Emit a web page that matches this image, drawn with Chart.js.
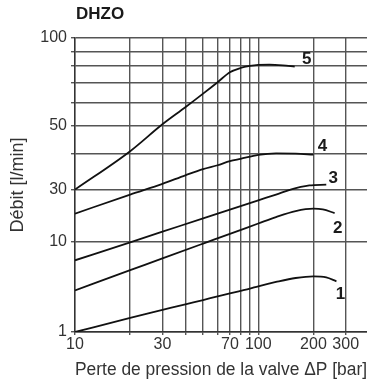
<!DOCTYPE html>
<html>
<head>
<meta charset="utf-8">
<script src="https://cdn.jsdelivr.net/npm/chart.js@4.4.1/dist/chart.umd.min.js"></script>
<style>
  html, body { margin: 0; padding: 0; background: #fff; }
</style>
</head>
<body>
<canvas id="flowChart" width="367" height="385"></canvas>
<script>
// Pressure drop (bar) and flow (l/min), one pair of arrays per curve
const pressure1 = [10, 20, 30, 40, 50, 60, 70, 80, 90, 100, 125, 160, 200, 235, 267];
const flow1 = [1.0, 1.43, 1.75, 2.02, 2.25, 2.47, 2.66, 2.84, 3.01, 3.19, 3.56, 3.94, 4.11, 4.0, 3.62];

const pressure2 = [10, 20, 30, 50, 70, 100, 125, 160, 200, 225, 261];
const flow2 = [2.88, 4.8, 6.48, 9.43, 11.7, 14.6, 16.75, 19.0, 20.0, 19.7, 18.2];

const pressure3 = [10, 20, 30, 50, 70, 100, 125, 150, 190, 235];
const flow3 = [6.17, 9.75, 12.26, 16.3, 19.6, 23.9, 27.0, 30.0, 31.0, 31.2];

const pressure4 = [10, 20, 30, 40, 50, 60, 70, 80, 100, 125, 160, 200];
const flow4 = [18.0, 27.0, 31.4, 33.6, 35.3, 36.4, 37.6, 38.3, 39.5, 40.0, 39.9, 39.6];

const pressure5 = [10, 20, 30, 40, 50, 60, 70, 80, 90, 100, 115, 136, 158];
const flow5 = [30, 40.7, 50.4, 57.7, 64.3, 70.4, 76.2, 78.8, 80.1, 80.8, 81.0, 80.5, 79.6];

const curveNames = ['1', '2', '3', '4', '5'];

// Axis ticks
const xGrid = [10, 20, 30, 40, 50, 60, 70, 80, 90, 100, 200, 300];
const xLabels = [10, 30, 70, 100, 200, 300];
const yGrid = [1, 10, 30, 40, 50, 60, 70, 80, 90, 100];
const yLabels = [1, 10, 30, 50, 100];

// The flow axis is logarithmic, but every band has its own stretch
const yBreaks = [1, 10, 30, 100];
const yBandHeights = [90.7, 51.7, 151.6];

// where the curve numbers sit, relative to the last point of each curve
const labelOffsets = [[4, 13], [3, 15], [7, -6], [9, -8], [12, -7]];

const font = '"Liberation Sans", Arial, Helvetica, sans-serif';

class BandLogScale extends Chart.Scale {
    static id = 'bandlog';
    static defaults = {};

    determineDataLimits() {
        this.min = this.options.min;
        this.max = this.options.max;
    }

    buildTicks() {
        return yGrid.map(v => ({ value: v }));
    }

    toDecimal(v) {
        const total = yBandHeights.reduce((a, b) => a + b, 0);
        let acc = 0;
        for (let i = 0; i < yBandHeights.length; i++) {
            const lo = yBreaks[i], hi = yBreaks[i + 1];
            if (v <= hi || i === yBandHeights.length - 1) {
                const f = (Math.log10(v) - Math.log10(lo)) / (Math.log10(hi) - Math.log10(lo));
                return (acc + f * yBandHeights[i]) / total;
            }
            acc += yBandHeights[i];
        }
    }

    fromDecimal(d) {
        const total = yBandHeights.reduce((a, b) => a + b, 0);
        let pos = d * total;
        for (let i = 0; i < yBandHeights.length; i++) {
            if (pos <= yBandHeights[i] || i === yBandHeights.length - 1) {
                const lo = Math.log10(yBreaks[i]), hi = Math.log10(yBreaks[i + 1]);
                return Math.pow(10, lo + (pos / yBandHeights[i]) * (hi - lo));
            }
            pos -= yBandHeights[i];
        }
    }

    getPixelForValue(v) {
        return this.getPixelForDecimal(this.toDecimal(v));
    }

    getValueForPixel(p) {
        return this.fromDecimal(this.getDecimalForPixel(p));
    }
}
Chart.register(BandLogScale);

function toPoints(xs, ys) {
    return xs.map((x, i) => ({ x: x, y: ys[i] }));
}

const series = [
    toPoints(pressure1, flow1),
    toPoints(pressure2, flow2),
    toPoints(pressure3, flow3),
    toPoints(pressure4, flow4),
    toPoints(pressure5, flow5)
];

// Title and curve numbers
const notes = {
    id: 'notes',
    afterDatasetsDraw(chart) {
        const { ctx, scales: { x, y } } = chart;
        ctx.save();
        ctx.fillStyle = '#1a1a1a';
        ctx.font = 'bold 17px ' + font;
        ctx.textAlign = 'center';
        ctx.textBaseline = 'middle';
        chart.data.datasets.forEach((ds, i) => {
            const last = ds.data[ds.data.length - 1];
            const [dx, dy] = labelOffsets[i];
            ctx.fillText(ds.label, x.getPixelForValue(last.x) + dx, y.getPixelForValue(last.y) + dy);
        });
        ctx.textAlign = 'left';
        ctx.fillText('DHZO', chart.chartArea.left + 1, 14);
        ctx.restore();
    }
};

const gridColor = '#555';

new Chart(document.getElementById('flowChart'), {
    type: 'line',
    data: {
        datasets: series.map((pts, i) => ({
            label: curveNames[i],
            data: pts,
            borderColor: '#111',
            borderWidth: 1.8,
            pointRadius: 0,
            cubicInterpolationMode: 'monotone',
            fill: false
        }))
    },
    options: {
        responsive: false,
        animation: false,
        layout: { padding: { top: 38, left: 0, right: 0, bottom: 0 } },
        plugins: {
            legend: { display: false },
            tooltip: { enabled: false }
        },
        scales: {
            x: {
                type: 'logarithmic',
                min: 10,
                max: 392,
                afterBuildTicks: axis => {
                    axis.ticks = xGrid.map(v => ({ value: v }));
                },
                afterFit: axis => { axis.height = 53; },
                ticks: {
                    autoSkip: false,
                    maxRotation: 0,
                    padding: 0,
                    color: '#333',
                    font: { family: font, size: 16 },
                    callback: v => xLabels.includes(v) ? String(v) : ''
                },
                grid: { color: gridColor, lineWidth: 1.4, tickLength: 3 },
                border: { display: true, color: '#333', width: 1.4 },
                title: {
                    display: true,
                    text: 'Perte de pression de la valve ΔP [bar]',
                    color: '#333',
                    font: { family: font, size: 17.5 },
                    padding: { top: 0, bottom: 4 }
                }
            },
            y: {
                type: 'bandlog',
                min: 1,
                max: 100,
                afterFit: axis => { axis.width = 75; },
                ticks: {
                    padding: 4,
                    color: '#333',
                    font: { family: font, size: 16 },
                    callback: v => yLabels.includes(v) ? String(v) : ''
                },
                grid: { color: gridColor, lineWidth: 1.4, tickLength: 4 },
                border: { display: true, color: '#333', width: 1.4 },
                title: {
                    display: true,
                    text: 'Débit [l/min]',
                    color: '#333',
                    font: { family: font, size: 18 },
                    padding: { top: 7, bottom: 0 }
                }
            }
        }
    },
    plugins: [notes]
});
</script>
</body>
</html>
